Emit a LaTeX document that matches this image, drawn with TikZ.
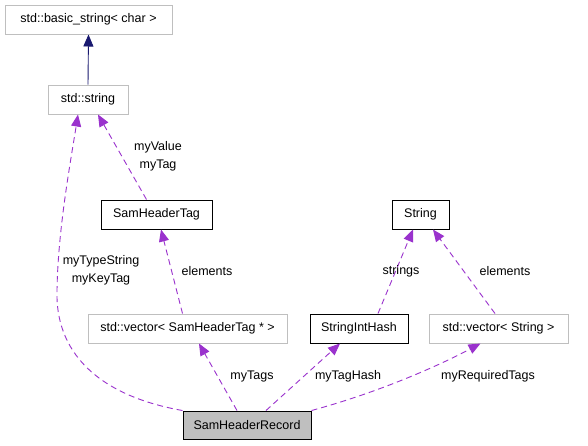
\documentclass[tikz,border=0pt]{standalone}
\usepackage{fontspec}
\setmainfont{Liberation Sans}
\usetikzlibrary{arrows.meta}
\definecolor{edgepurple}{HTML}{9A32CD}
\definecolor{edgenavy}{HTML}{191970}
\definecolor{boxgray}{HTML}{BFBFBF}
\begin{document}
\begin{tikzpicture}[x=1pt,y=-1pt,
  font=\fontsize{12.5}{18}\selectfont,
  cls/.style={draw=black, line width=1pt, inner sep=0pt, minimum height=29pt, anchor=center},
  ext/.style={draw=boxgray, line width=1pt, inner sep=0pt, minimum height=29pt, anchor=center},
  rel/.style={edgepurple, line width=0.9pt, dash pattern=on 6pt off 4pt, -{Triangle[length=12pt,width=10pt]}},
  inh/.style={edgenavy, line width=0.9pt, -{Triangle[length=12pt,width=10pt]}},
  lbl/.style={align=center, inner sep=0pt}]
\useasboundingbox (0,0) rectangle (588,445);
\fill[white] (0,0) rectangle (588,445);

\node[ext, minimum width=167pt] (bstr) at (88.5,19.5) {std::basic\_string< char >};
\node[ext, minimum width=80pt] (sstr) at (88,99.5) {std::string};
\node[cls, minimum width=111pt] (tag) at (156.5,214.5) {SamHeaderTag};
\node[cls, minimum width=57pt] (strg) at (420.5,214.5) {String};
\node[ext, minimum width=199pt] (vtag) at (187.5,328.5) {std::vector< SamHeaderTag * >};
\node[cls, minimum width=98pt] (hash) at (359,328.5) {StringIntHash};
\node[ext, minimum width=139pt] (vstr) at (498.5,328.5) {std::vector< String >};
\node[cls, fill=boxgray, minimum width=128pt, minimum height=28pt] (rec) at (247,425) {SamHeaderRecord};

\draw[inh] (sstr.north) -- (bstr.south);

\draw[rel] (rec.north west) .. controls (95,395) and (55,350) .. (57,290)
  .. controls (58,230) and (70,165) .. ([xshift=-10pt]sstr.south);
\node[lbl] (l1) at (101,270) {myTypeString\\myKeyTag};

\draw[rel] ([xshift=-10pt]tag.north) -- ([xshift=10pt]sstr.south);
\node[lbl] (l2) at (158,156) {myValue\\myTag};

\draw[rel] ([xshift=-5pt]vtag.north) -- ([xshift=4.5pt]tag.south);
\node[lbl] (l3) at (207,271) {elements};

\draw[rel] ([xshift=-10pt]rec.north) -- ([xshift=11.5pt]vtag.south);
\node[lbl] (l4) at (252,376) {myTags};

\draw[rel] ([xshift=19pt]rec.north) -- ([xshift=-19pt]hash.south);
\node[lbl] (l5) at (348,376) {myTagHash};

\draw[rel] (rec.north east) .. controls (380,392) and (440,365) .. ([xshift=-18pt]vstr.south);
\node[lbl] (l6) at (488,376) {myRequiredTags};

\draw[rel] ([xshift=19pt]hash.north) -- ([xshift=-7.5pt]strg.south);
\node[lbl] (l7) at (401,271) {strings};

\draw[rel] ([xshift=-3.5pt]vstr.north) -- ([xshift=12.5pt]strg.south);
\node[lbl] (l8) at (505,271) {elements};
\end{tikzpicture}
\end{document}
